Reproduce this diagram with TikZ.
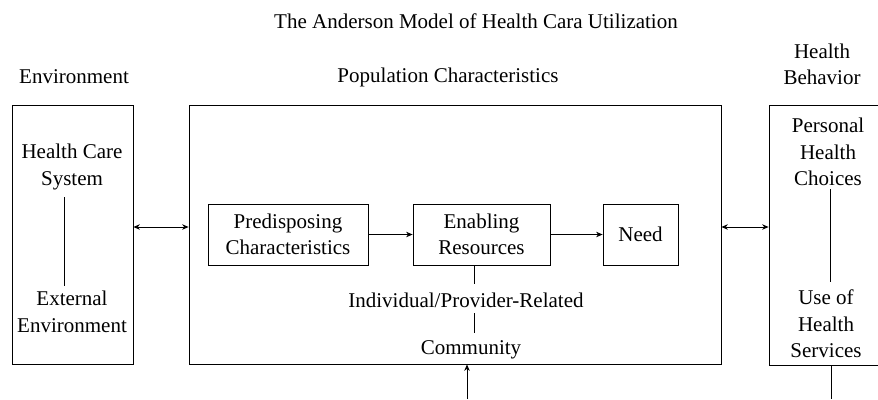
\documentclass[tikz,border=0pt]{standalone}
\usepackage{fontspec}
\setmainfont{Liberation Serif}
\usepackage{tikz}
\usetikzlibrary{arrows.meta,calc}

\begin{document}
\begin{tikzpicture}[>={Stealth[length=6.5pt,width=5.5pt]},x=1pt,y=-1pt,line width=0.8pt,
    txt/.style={align=center,inner sep=0pt,font=\fontsize{21}{26.5}\selectfont},
    box/.style={draw,inner sep=0pt,txt}]
      \useasboundingbox (0,0) rectangle (878,399);
      \clip (0,0) rectangle (878,399);
      \node[txt] (title) at (476,21) {The Anderson Model of Health Cara Utilization};
      \node[txt] (envTitle) at (74,77) {Environment};
      \node[txt] (popTitle) at (448,77) {Population Characteristics};
      \node[txt] (hbTitle) at (822,64.5) {Health\\Behavior};
      \node[box,minimum width=121pt,minimum height=259pt] (env) at (72.5,234.5) {};
      \node[box,minimum width=532pt,minimum height=259pt] (pop) at (455,234.5) {};
      \node[box,minimum width=116pt,minimum height=260pt] (hb) at (827,235) {};
      \node[box,minimum width=160pt,minimum height=61pt] (pred) at (288,234.5) {Predisposing\\Characteristics};
      \node[box,minimum width=137pt,minimum height=61pt] (enab) at (481.5,234.5) {Enabling\\Resources};
      \node[box,minimum width=75pt,minimum height=61pt] (need) at (640.5,234.5) {Need};
      \node[txt] (hcs) at (72,167) {Health Care\\System};
      \node[txt] (ext) at (72,312) {External\\Environment};
      \node[txt] (phc) at (828,152) {Personal\\Health\\Choices};
      \node[txt] (uhs) at (826,324) {Use of\\Health\\Services};
      \node[txt] (ipr) at (466,300) {Individual/Provider-Related};
      \node[txt] (comm) at (471,350) {Community};
      \coordinate (link) at (0,227);
      \coordinate (hcsEnd) at (64,197);
      \coordinate (extEnd) at (64,286);
      \coordinate (phcEnd) at (830,189);
      \coordinate (uhsEnd) at (830,282);
      \coordinate (iprTop) at (474,284);
      \coordinate (iprBot) at (474,313);
      \coordinate (commTop) at (474,333);
      \coordinate (feedIn) at (467,399);
      \coordinate (feedOut) at (831,399);
     \draw[<->] (env.east |- link) -- (pop.west |- link);
     \draw[<->] (pop.east |- link) -- (hb.west |- link);
      \draw[->] (pred) -- (enab);
      \draw[->] (enab) -- (need);
      \draw (hcsEnd) -- (extEnd);
      \draw (phcEnd) -- (uhsEnd);
      \draw (enab.south -| iprTop) -- (iprTop);
      \draw (iprBot) -- (commTop);
      \draw[->] (feedIn) -- (feedIn |- pop.south);
      \draw (hb.south -| feedOut) -- (feedOut);
\end{tikzpicture}
\end{document}
